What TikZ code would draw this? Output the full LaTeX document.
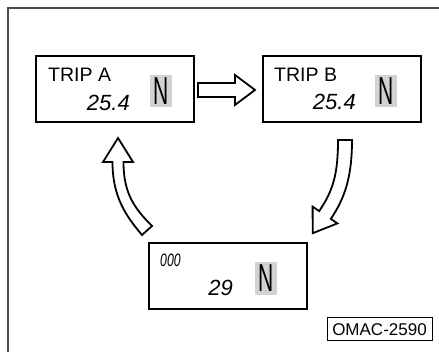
\documentclass[tikz,border=0pt]{standalone}
\usepackage{fontspec}
\setmainfont{Liberation Sans}
\usepackage{graphicx}
\begin{document}
\begin{tikzpicture}[
    x=1pt, y=-1pt,
    panel/.style={rectangle, draw, line width=2pt, minimum width=158pt, minimum height=66pt},
    title/.style={inner sep=0pt, font=\fontsize{19.5}{20}\selectfont},
    digits/.style={inner sep=0pt, font=\fontsize{22}{22}\selectfont\itshape},
    gear/.style={rectangle, fill=gray!35, inner sep=0pt, minimum width=22pt, minimum height=32pt, font=\fontsize{30}{30}\selectfont},
    hollow/.style={draw, fill=white, line width=1.8pt, line join=miter}
]
\useasboundingbox (0,0) rectangle (439,352);

% Frame
\draw[line width=1.5pt, gray!60!black] (8,353) -- (8,8) -- (440,8);

% Displays
\node[panel] (tripa) at (115, 89.5) {};
\node[panel] (tripb) at (341.5, 89.5) {};
\node[panel] (odo) at (228, 276.5) {};

% Trip A
\node[title, anchor=base west] (tripatext) at (48, 82) {TRIP A};
\node[digits, anchor=base east] (tripaval) at (130, 111) {25.4};
\node[gear] (tripagear) at (161, 91) {\scalebox{0.7}[1.3]{N}};

% Trip B
\node[title, anchor=base west] (tripbtext) at (274, 82) {TRIP B};
\node[digits, anchor=base east] (tripbval) at (356, 110) {25.4};
\node[gear] (tripbgear) at (386, 91) {\scalebox{0.7}[1.3]{N}};

% Odometer
\node[digits, anchor=base west, font=\fontsize{18}{18}\selectfont\itshape] (odotext) at (160, 267) {\scalebox{0.68}[1]{000}};
\node[digits, anchor=base east] (odoval) at (233, 296) {29};
\node[gear, minimum height=33pt] (odogear) at (266, 278.5) {\scalebox{0.7}[1.3]{N}};

% Arrows
\draw[hollow] (198,83) -- (235,83) -- (235,75) -- (255,90) -- (235,105) -- (235,97) -- (198,97) -- cycle;
\draw[hollow] (338,140) -- (352,140) .. controls (352,177) and (344.8,198.2) .. (330.8,218.9)
    -- (337.4,223.4) -- (312.7,233.2) -- (312.6,206.6) -- (319.2,211.1)
    .. controls (333.2,190.4) and (338,174) .. (338,140) -- cycle;
\draw[hollow] (152,226) -- (142,235) .. controls (126,216) and (112.5,197) .. (112.5,162)
    -- (103,162) -- (118,138) -- (133,162) -- (123.5,162)
    .. controls (123.5,193) and (134,208) .. (152,226) -- cycle;

% Code
\node[draw, line width=1pt, minimum width=105pt, minimum height=23pt, inner sep=0pt, font=\fontsize{17}{17}\selectfont] (code) at (379.5, 329.5) {OMAC-2590};

\end{tikzpicture}
\end{document}
